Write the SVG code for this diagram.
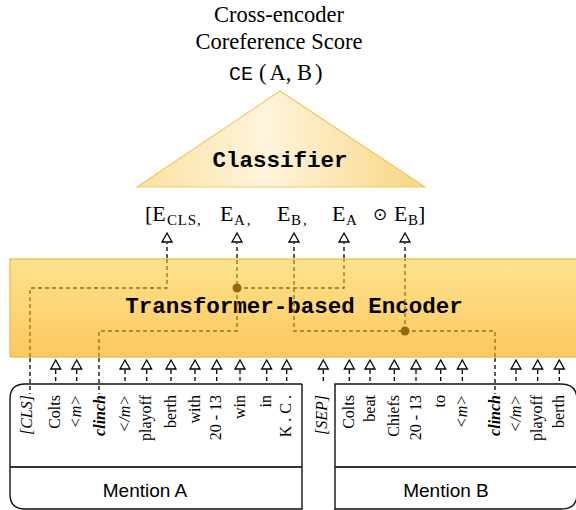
<svg xmlns="http://www.w3.org/2000/svg" width="576" height="510" viewBox="0 0 576 510">
<defs>
<linearGradient id="encGrad" x1="0" y1="0" x2="0" y2="1"><stop offset="0" stop-color="#fee38c"/><stop offset="1" stop-color="#fcc860"/></linearGradient>
<linearGradient id="clsGrad" x1="0" y1="0" x2="1" y2="0"><stop offset="0" stop-color="#fae1a0"/><stop offset="0.45" stop-color="#fff4dc"/><stop offset="1" stop-color="#f8d580"/></linearGradient>
<path id="tri" d="M0,0 L5,9 L-5,9 Z" fill="#fff" stroke="#000" stroke-width="1.3" stroke-linejoin="miter"/>
</defs>
<style>
.t{font-family:"Liberation Serif","Times New Roman",serif;font-size:16px;fill:#000}
.it{font-style:italic}
.bi{font-style:italic;font-weight:bold}
.mono{font-family:"Liberation Mono","Courier New",monospace;font-weight:bold;font-size:22.5px;fill:#000}
.ttl{font-family:"Liberation Serif","Times New Roman",serif;font-size:22.5px;fill:#000}
.emb{font-family:"Liberation Serif","Times New Roman",serif;font-size:22px;fill:#000}
.sub{font-size:15px}
.dk{fill:none;stroke:#000;stroke-width:1.3;stroke-dasharray:4 3}
.br{fill:none;stroke:#94701f;stroke-width:1.3;stroke-dasharray:4 3}
.box{fill:none;stroke:#111;stroke-width:1.4}
.div{fill:none;stroke:#333;stroke-width:1.8}
.lbl{font-family:"Liberation Sans",Arial,sans-serif;font-size:19px;fill:#000}
</style>

<g id="title">
<text class="ttl" x="279" y="22" text-anchor="middle">Cross-encoder</text>
<text class="ttl" x="279" y="49" text-anchor="middle">Coreference Score</text>
<text class="ttl" x="229" y="80"><tspan font-family="Liberation Mono,Courier New,monospace" font-size="20">CE</tspan><tspan dx="6">(</tspan><tspan dx="3">A, B</tspan><tspan dx="3">)</tspan></text>
</g>

<g id="classifier">
<polygon points="280,91 137,187 425,187" fill="url(#clsGrad)" stroke="#ecc96a" stroke-width="1.2"/>
<text class="mono" x="280" y="167" text-anchor="middle">Classifier</text>
</g>

<g id="embeddings">
<text class="emb" x="145" y="221">[E</text>
<text class="emb sub" x="167" y="225" letter-spacing="0.8">CLS,</text>
<text class="emb" x="220" y="221">E</text>
<text class="emb sub" x="234" y="225" letter-spacing="2">A,</text>
<text class="emb" x="277" y="221">E</text>
<text class="emb sub" x="291" y="225" letter-spacing="2">B,</text>
<text class="emb" x="332" y="221">E</text>
<text class="emb sub" x="346" y="225">A</text>
<text x="380" y="220" text-anchor="middle" font-family="DejaVu Sans,sans-serif" font-size="17">⊙</text>
<text class="emb" x="394" y="221">E</text>
<text class="emb sub" x="408" y="225">B</text>
<text class="emb" x="418" y="221">]</text>
</g>

<g id="encoder">
<rect x="10" y="259" width="568" height="98" fill="url(#encGrad)" stroke="#f2b540" stroke-width="1.2"/>
<text class="mono" x="294" y="313" text-anchor="middle">Transformer-based Encoder</text>
</g>

<g id="mentionA">
<path class="box" d="M302,384 H25 Q10,384 10,399 V494 Q10,509 25,509 H302 V384"/>
<line class="div" x1="10" y1="467" x2="302" y2="467"/>
<text class="lbl" x="145" y="497" text-anchor="middle">Mention A</text>
</g>

<g id="mentionB">
<path class="box" d="M335,510 V384 H561 Q577,384 577,400 V494 Q577,509 561,509 H335"/>
<line class="div" x1="335" y1="467" x2="578" y2="467"/>
<text class="lbl" x="446" y="497" text-anchor="middle">Mention B</text>
</g>

<g id="tokens">
<text class="t it" transform="translate(31.5,395) rotate(-90)" text-anchor="end">[CLS]</text>
<text class="t" transform="translate(60,395) rotate(-90)" text-anchor="end">Colts</text>
<text class="t it" transform="translate(81,395) rotate(-90)" text-anchor="end">&lt;m&gt;</text>
<text class="t bi" transform="translate(105,395) rotate(-90)" text-anchor="end">clinch</text>
<text class="t it" transform="translate(129.5,395) rotate(-90)" text-anchor="end">&lt;/m&gt;</text>
<text class="t" transform="translate(151,395) rotate(-90)" text-anchor="end">playoff</text>
<text class="t" transform="translate(175.5,395) rotate(-90)" text-anchor="end">berth</text>
<text class="t" transform="translate(199.5,395) rotate(-90)" text-anchor="end">with</text>
<text class="t" transform="translate(221,395) rotate(-90)" text-anchor="end">20 - 13</text>
<text class="t" transform="translate(244.5,395) rotate(-90)" text-anchor="end">win</text>
<text class="t" transform="translate(271,395) rotate(-90)" text-anchor="end">in</text>
<text class="t" transform="translate(291,395) rotate(-90)" text-anchor="end">K . C .</text>
<text class="t it" transform="translate(326.5,395) rotate(-90)" text-anchor="end">[SEP]</text>
<text class="t" transform="translate(354,395) rotate(-90)" text-anchor="end">Colts</text>
<text class="t" transform="translate(374.5,395) rotate(-90)" text-anchor="end">beat</text>
<text class="t" transform="translate(399,395) rotate(-90)" text-anchor="end">Chiefs</text>
<text class="t" transform="translate(420.5,395) rotate(-90)" text-anchor="end">20 - 13</text>
<text class="t" transform="translate(445,395) rotate(-90)" text-anchor="end">to</text>
<text class="t it" transform="translate(467,395) rotate(-90)" text-anchor="end">&lt;m&gt;</text>
<text class="t bi" transform="translate(500,395) rotate(-90)" text-anchor="end">clinch</text>
<text class="t it" transform="translate(520.5,395) rotate(-90)" text-anchor="end">&lt;/m&gt;</text>
<text class="t" transform="translate(542,395) rotate(-90)" text-anchor="end">playoff</text>
<text class="t" transform="translate(564,395) rotate(-90)" text-anchor="end">berth</text>
</g>

<g id="connectors">
<g>
<use href="#tri" x="55.7" y="360"/><use href="#tri" x="76.7" y="360"/>
<use href="#tri" x="125" y="360"/><use href="#tri" x="146.7" y="360"/>
<use href="#tri" x="171" y="360"/><use href="#tri" x="195" y="360"/>
<use href="#tri" x="216.7" y="360"/><use href="#tri" x="240" y="360"/>
<use href="#tri" x="266.7" y="360"/><use href="#tri" x="286.7" y="360"/>
<use href="#tri" x="323.3" y="360"/><use href="#tri" x="349.3" y="360"/>
<use href="#tri" x="370" y="360"/><use href="#tri" x="394.3" y="360"/>
<use href="#tri" x="416" y="360"/><use href="#tri" x="440.7" y="360"/>
<use href="#tri" x="462.3" y="360"/><use href="#tri" x="516" y="360"/>
<use href="#tri" x="537.7" y="360"/><use href="#tri" x="559.3" y="360"/>
</g>
<path class="dk" d="M55.7,370 V384 M76.7,370 V384 M125,370 V384 M146.7,370 V384 M171,370 V384 M195,370 V384 M216.7,370 V384 M240,370 V384 M266.7,370 V384 M286.7,370 V384 M323.3,370 V384 M349.3,370 V384 M370,370 V384 M394.3,370 V384 M416,370 V384 M440.7,370 V384 M462.3,370 V384 M516,370 V384 M537.7,370 V384 M559.3,370 V384"/>
<path class="dk" d="M30,358 V394 M99,358 V394 M495,358 V394"/>
<path class="br" d="M30,357 V288 H167 V259"/>
<path class="br" d="M99,357 V331 H237 V259"/>
<path class="br" d="M237,288 H344 V259"/>
<path class="br" d="M495,357 V331 H294 V259"/>
<path class="br" d="M405,331 V259"/>
<circle cx="237" cy="288" r="4.5" fill="#9a6710"/>
<circle cx="405" cy="331" r="4.5" fill="#9a6710"/>
<path class="dk" d="M167,258 V243 M237,258 V243 M294,258 V243 M344,258 V243 M405,258 V243"/>
<use href="#tri" x="167" y="233"/><use href="#tri" x="237" y="233"/>
<use href="#tri" x="294" y="233"/><use href="#tri" x="344" y="233"/>
<use href="#tri" x="405" y="233"/>
</g>
</svg>
